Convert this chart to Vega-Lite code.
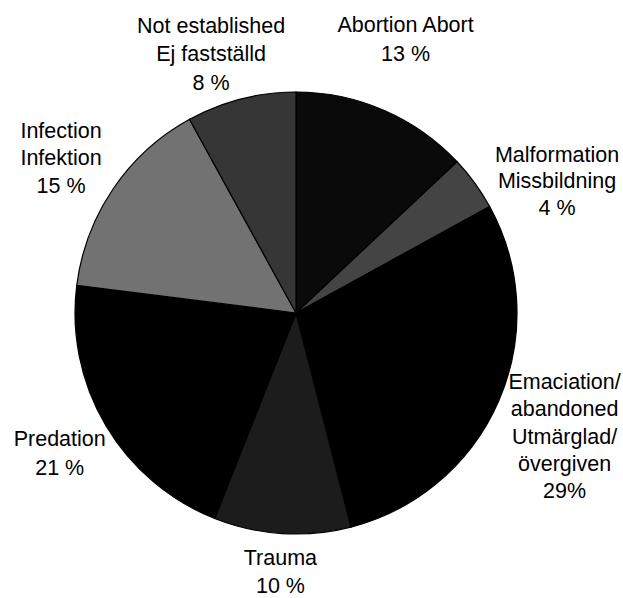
{
  "$schema": "https://vega.github.io/schema/vega-lite/v6.json",
  "width": 592,
  "height": 570,
  "autosize": "none",
  "padding": {"top": 28, "left": 0, "right": 31, "bottom": 0},
  "background": "white",
  "view": {"stroke": null},
  "data": {
    "values": [
      {"o": 1, "cause": "Abortion", "pct": 13, "label": "Abortion Abort|13 %"},
      {"o": 2, "cause": "Malformation", "pct": 4, "label": "Malformation|Missbildning|4 %"},
      {"o": 3, "cause": "Emaciation", "pct": 29, "label": "Emaciation/|abandoned|Utmärglad/|övergiven|29%"},
      {"o": 4, "cause": "Trauma", "pct": 10, "label": "Trauma|10 %"},
      {"o": 5, "cause": "Predation", "pct": 21, "label": "Predation|21 %"},
      {"o": 6, "cause": "Infection", "pct": 15, "label": "Infection|Infektion|15 %"},
      {"o": 7, "cause": "Not established", "pct": 8, "label": "Not established|Ej fastställd|8 %"}
    ]
  },
  "encoding": {
    "theta": {"field": "pct", "type": "quantitative", "stack": true},
    "order": {"field": "o", "type": "quantitative", "sort": "ascending"}
  },
  "layer": [
    {
      "mark": {"type": "arc", "outerRadius": 221, "stroke": "#000", "strokeWidth": 1.2},
      "encoding": {
        "color": {
          "field": "cause",
          "type": "nominal",
          "legend": null,
          "scale": {
            "domain": ["Abortion", "Malformation", "Emaciation", "Trauma", "Predation", "Infection", "Not established"],
            "range": ["#0a0a0a", "#444444", "#000000", "#1c1c1c", "#000000", "#727272", "#363636"]
          }
        }
      }
    },
    {
      "mark": {"type": "text", "radius": 273, "dx": -17, "dy": -22, "font": "Liberation Sans", "fontSize": 21.5, "lineHeight": 28.5, "lineBreak": "|", "align": "center", "baseline": "middle", "color": "#000"},
      "encoding": {"text": {"condition": {"test": "datum.cause === 'Not established'", "field": "label"}, "value": ""}}
    },
    {
      "mark": {"type": "text", "radius": 296, "dx": -8, "dy": -15, "font": "Liberation Sans", "fontSize": 21.5, "lineHeight": 29, "lineBreak": "|", "align": "center", "baseline": "middle", "color": "#000"},
      "encoding": {"text": {"condition": {"test": "datum.cause === 'Abortion'", "field": "label"}, "value": ""}}
    },
    {
      "mark": {"type": "text", "radius": 293, "dx": 24, "dy": 15, "font": "Liberation Sans", "fontSize": 21.5, "lineHeight": 26.5, "lineBreak": "|", "align": "center", "baseline": "middle", "color": "#000"},
      "encoding": {"text": {"condition": {"test": "datum.cause === 'Malformation'", "field": "label"}, "value": ""}}
    },
    {
      "mark": {"type": "text", "radius": 297, "dx": -4, "dy": -48, "font": "Liberation Sans", "fontSize": 21.5, "lineHeight": 27.3, "lineBreak": "|", "align": "center", "baseline": "middle", "color": "#000"},
      "encoding": {"text": {"condition": {"test": "datum.cause === 'Emaciation'", "field": "label"}, "value": ""}}
    },
    {
      "mark": {"type": "text", "radius": 264, "dx": 1, "dy": -17, "font": "Liberation Sans", "fontSize": 21.5, "lineHeight": 28, "lineBreak": "|", "align": "center", "baseline": "middle", "color": "#000"},
      "encoding": {"text": {"condition": {"test": "datum.cause === 'Trauma'", "field": "label"}, "value": ""}}
    },
    {
      "mark": {"type": "text", "radius": 278, "dx": 3, "dy": -15, "font": "Liberation Sans", "fontSize": 21.5, "lineHeight": 29, "lineBreak": "|", "align": "center", "baseline": "middle", "color": "#000"},
      "encoding": {"text": {"condition": {"test": "datum.cause === 'Predation'", "field": "label"}, "value": ""}}
    },
    {
      "mark": {"type": "text", "radius": 278, "dx": -5, "dy": -25, "font": "Liberation Sans", "fontSize": 21.5, "lineHeight": 27.5, "lineBreak": "|", "align": "center", "baseline": "middle", "color": "#000"},
      "encoding": {"text": {"condition": {"test": "datum.cause === 'Infection'", "field": "label"}, "value": ""}}
    }
  ]
}
